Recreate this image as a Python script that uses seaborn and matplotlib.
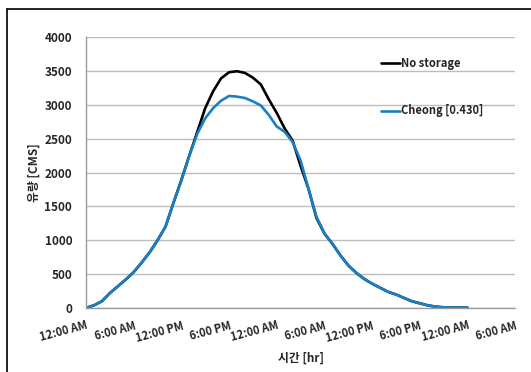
import numpy as np
import pandas as pd
import matplotlib
matplotlib.use('Agg')
import matplotlib.pyplot as plt
import seaborn as sns
from matplotlib.lines import Line2D

# ---------------------------------------------------------------------------
# Data (hourly discharge)
# ---------------------------------------------------------------------------
hours = list(range(0, 49))

no_storage = [
    0, 40, 100, 220, 320, 420, 530, 670, 820, 1000,
    1200, 1550, 1890, 2250, 2600, 2950, 3200, 3390, 3480, 3495,
    3470, 3400, 3300, 3080, 2880, 2650, 2470, 2100, 1760, 1330,
    1100, 950, 780, 630, 520, 430, 360, 300, 240, 200,
    150, 100, 70, 40, 20, 10, 5, 5, 5,
]

cheong = [
    0, 40, 100, 220, 320, 420, 530, 670, 820, 1000,
    1200, 1550, 1880, 2250, 2570, 2800, 2950, 3060, 3130, 3120,
    3100, 3050, 2990, 2850, 2680, 2600, 2450, 2180, 1760, 1350,
    1100, 950, 780, 630, 520, 430, 360, 300, 240, 200,
    150, 100, 70, 40, 20, 10, 5, 5, 5,
]

series_names = ['No storage', 'Cheong [0.430]']
series_colors = ['#000000', '#1b7fc4']

tick_hours = list(range(0, 55, 6))
tick_labels = ['12:00 AM', '6:00 AM', '12:00 PM', '6:00 PM', '12:00 AM',
               '6:00 AM', '12:00 PM', '6:00 PM', '12:00 AM', '6:00 AM']

y_ticks = list(range(0, 4001, 500))


def main():
    df = pd.DataFrame({
        'hour': hours * 2,
        'flow': no_storage + cheong,
        'series': [series_names[0]] * len(hours) + [series_names[1]] * len(hours),
    })

    sns.set_style('white')
    plt.rcParams['font.family'] = ['Noto Sans CJK KR', 'DejaVu Sans']

    fig = plt.figure(figsize=(5.31, 3.72), dpi=100)
    ax = fig.add_axes([0.162, 0.172, 0.808, 0.7285])

    sns.lineplot(data=df, x='hour', y='flow', hue='series',
                 palette=dict(zip(series_names, series_colors)),
                 hue_order=series_names, linewidth=1.9, ax=ax, legend=False)

    ax.set_xlim(0, 54)
    ax.set_ylim(0, 4000)
    ax.set_yticks(y_ticks)
    ax.set_yticklabels([str(v) for v in y_ticks], fontsize=8.5, fontweight='bold')
    ax.set_xticks(tick_hours)
    ax.set_xticklabels(tick_labels, fontsize=8, fontweight='bold', rotation=15,
                       ha='right', rotation_mode='anchor')
    ax.yaxis.grid(True, color='#bdbdbd', linewidth=1)
    ax.xaxis.grid(False)

    for side in ('top', 'right'):
        ax.spines[side].set_visible(False)
    for side in ('left', 'bottom'):
        ax.spines[side].set_color('#9a9a9a')
        ax.spines[side].set_linewidth(1)
    ax.tick_params(axis='x', direction='inout', length=6, color='#9a9a9a',
                   pad=5)
    ax.tick_params(axis='y', length=0, pad=10)

    ax.set_xlabel('시간 [hr]', fontsize=8.5, fontweight='bold', labelpad=5)
    ax.set_ylabel('유량 [CMS]', fontsize=8.5, fontweight='bold', labelpad=3)

    handles = [Line2D([0], [0], color=c, linewidth=1.9) for c in series_colors]
    ax.legend(handles, series_names, loc='upper left',
              bbox_to_anchor=(0.664, 0.963), frameon=False,
              handlelength=1.7, handletextpad=0.1, labelspacing=3.1,
              prop={'size': 8, 'weight': 'bold'})

    # chart frame (only left/top edges visible in the cropped original)
    fig.add_artist(Line2D([7 / 531, 7 / 531], [0, 1 - 9 / 372],
                          color='black', linewidth=1.2, transform=fig.transFigure))
    fig.add_artist(Line2D([7 / 531, 1], [1 - 9 / 372, 1 - 9 / 372],
                          color='black', linewidth=1.2, transform=fig.transFigure))

    fig.savefig('out.png', dpi=100)
    plt.close(fig)


if __name__ == '__main__':
    main()
